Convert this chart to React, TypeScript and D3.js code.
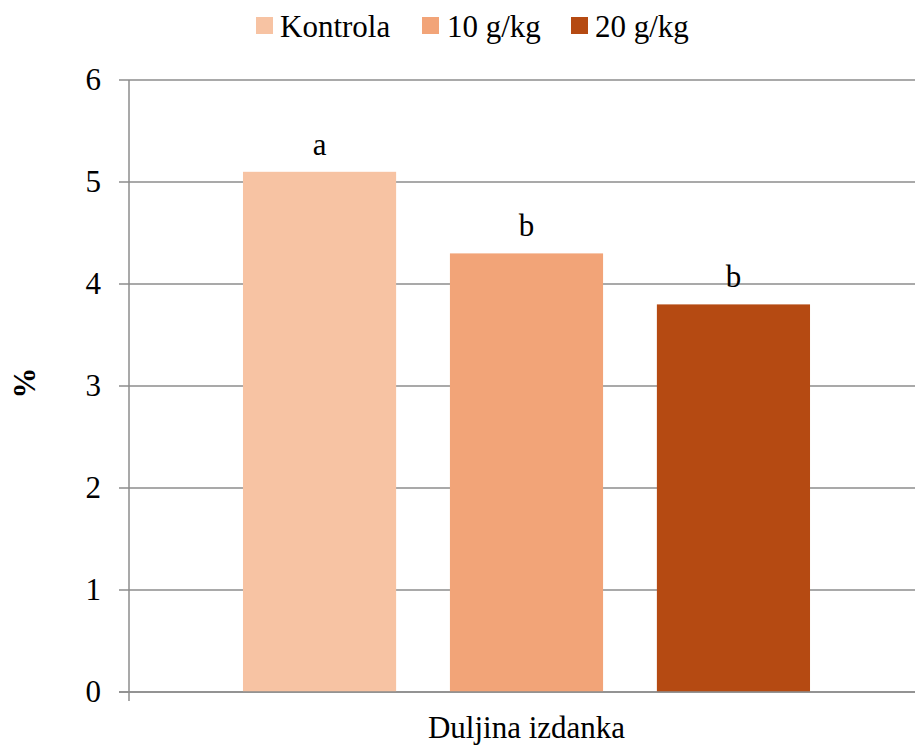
import React from "react";
import * as d3 from "d3";

const categories = ["Duljina izdanka"];
const seriesNames = ["Kontrola", "10 g/kg", "20 g/kg"];
const seriesValues = [5.1, 4.3, 3.8];
const seriesLetters = ["a", "b", "b"];
const seriesColors = ["#F7C3A3", "#F2A478", "#B54A12"];
const yTicks = [0, 1, 2, 3, 4, 5, 6];

const W = 915;
const H = 749;
const FONT = "Liberation Serif";
const FS = 31;

export default function App() {
  const left = 129;
  const right = 924;
  const top = 80;
  const bottom = 692;

  const y = d3.scaleLinear().domain([0, 6]).range([bottom, top]);
  const x0 = d3.scaleBand().domain(categories).range([left, right]).paddingInner(0).paddingOuter(0.201);
  const x1 = d3.scaleBand().domain(seriesNames).range([0, x0.bandwidth()]).paddingInner(0.26).paddingOuter(0);

  const legendItems = [
    { name: seriesNames[0], sx: 256, tx: 280 },
    { name: seriesNames[1], sx: 422, tx: 447 },
    { name: seriesNames[2], sx: 571, tx: 595 },
  ];

  const ts = { fontFamily: FONT, fontSize: FS };

  return (
    <svg width={W} height={H} style={{ position: "absolute", left: 0, top: 0, background: "#fff" }}>
      <rect x={0} y={0} width={W} height={H} fill="#fff" />
      {yTicks.map((t) => (
        <g key={t}>
          <line x1={left - 10} x2={W} y1={y(t)} y2={y(t)} stroke="#8c8c8c" strokeWidth={1.5} />
          <text x={101} y={y(t) + 10} textAnchor="end" style={ts} fill="#000">
            {`${t}`}
          </text>
        </g>
      ))}
      <line x1={left} x2={left} y1={top} y2={bottom + 9} stroke="#8c8c8c" strokeWidth={1.5} />
      {categories.map((c) => (
        <g key={c} transform={`translate(${x0(c)},0)`}>
          {seriesNames.map((s, i) => (
            <g key={s}>
              <rect
                x={x1(s)}
                y={y(seriesValues[i])}
                width={x1.bandwidth()}
                height={bottom - y(seriesValues[i])}
                fill={seriesColors[i]}
              />
              <text
                x={(x1(s) as number) + x1.bandwidth() / 2}
                y={y(seriesValues[i]) - 17}
                textAnchor="middle"
                style={ts}
                fill="#000"
              >
                {seriesLetters[i]}
              </text>
            </g>
          ))}
          <text x={x0.bandwidth() / 2} y={738} textAnchor="middle" style={ts} fill="#000">
            {c}
          </text>
        </g>
      ))}
      <line x1={left - 10} x2={W} y1={bottom} y2={bottom} stroke="#8c8c8c" strokeWidth={1.5} />
      <text
        transform={`translate(35,383) rotate(-90)`}
        textAnchor="middle"
        style={{ ...ts, fontWeight: "bold" }}
        fill="#000"
      >
        %
      </text>
      {legendItems.map((l, i) => (
        <g key={l.name}>
          <rect x={l.sx} y={17} width={17} height={17} fill={seriesColors[i]} />
          <text x={l.tx} y={37} style={ts} fill="#000">
            {l.name}
          </text>
        </g>
      ))}
    </svg>
  );
}
